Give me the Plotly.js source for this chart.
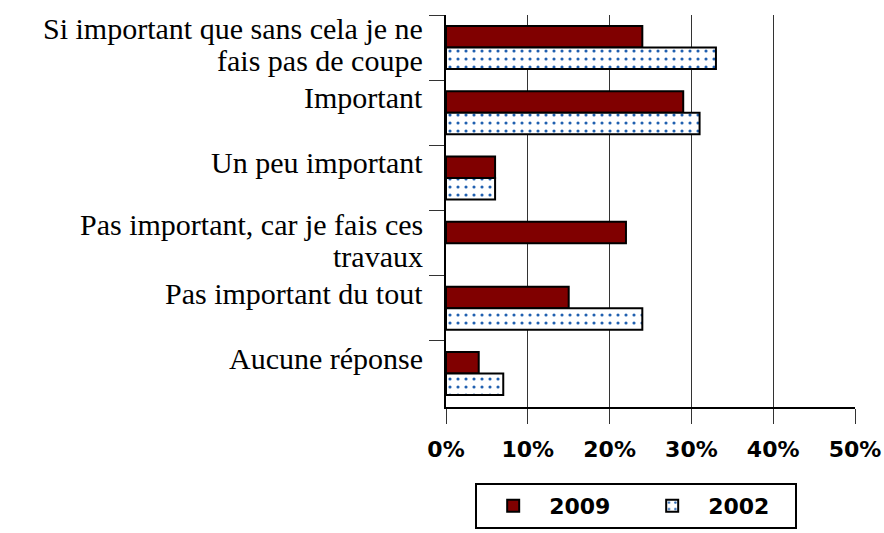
<!DOCTYPE html>
<html>
<head>
<meta charset="utf-8">
<script src="https://cdn.plot.ly/plotly-3.0.1.min.js"></script>
<style>html,body{margin:0;padding:0;background:#fff;}#chart{width:884px;height:533px;}</style>
</head>
<body>
<div id="chart"></div>
<script>
const categories = [
  "Si important que sans cela je ne<br>fais pas de coupe",
  "Important",
  "Un peu important",
  "Pas important, car je fais ces<br>travaux",
  "Pas important du tout",
  "Aucune réponse"
];
const values2009 = [24, 29, 6, 22, 15, 4];
const values2002 = [33, 31, 6, null, 24, 7];
const seriesNames = ["2009", "2002"];
const xTicks = [0, 10, 20, 30, 40, 50];

const traces = [
  {
    type: "bar", orientation: "h", name: seriesNames[0],
    y: categories, x: values2009,
    marker: {color: "#800000", line: {color: "#000", width: 2}},
    hoverinfo: "skip"
  },
  {
    type: "bar", orientation: "h", name: seriesNames[1],
    y: categories, x: values2002,
    marker: {
      color: "#ffffff",
      line: {color: "#000", width: 2},
      pattern: {shape: ".", fgcolor: "#2060b0", bgcolor: "#ffffff", size: 8, solidity: 0.12, fillmode: "replace"}
    },
    hoverinfo: "skip"
  }
];

// category labels as real text, one annotation per line (tight serif line spacing)
const labelFont = {family: "Liberation Serif", size: 30, color: "#000"};
const annotations = [];
categories.forEach(function (cat) {
  const lines = cat.split("<br>");
  const shifts = lines.length === 1 ? [15] : [19, -13];
  lines.forEach(function (ln, i) {
    annotations.push({
      xref: "paper", yref: "y", x: 0, y: cat,
      xanchor: "right", yanchor: "middle",
      xshift: -21, yshift: shifts[i],
      text: ln, showarrow: false, font: labelFont
    });
  });
});

const layout = {
  width: 884, height: 533,
  margin: {l: 446, r: 29, t: 15, b: 126, autoexpand: false},
  paper_bgcolor: "#fff", plot_bgcolor: "#fff",
  barmode: "group", bargap: 0.34, bargroupgap: 0,
  showlegend: true,
  legend: {
    orientation: "h", x: 0.465, xanchor: "center", y: -0.194, yanchor: "top",
    bordercolor: "#000", borderwidth: 2, bgcolor: "#fff",
    font: {family: "DejaVu Sans", size: 22, color: "#000", weight: "bold"},
    traceorder: "normal", itemwidth: 62, entrywidth: 82
  },
  annotations: annotations,
  xaxis: {
    range: [0, 50], tickvals: xTicks, ticktext: xTicks.map(v => v + "%"),
    showgrid: true, gridcolor: "#333", gridwidth: 1,
    showline: true, linecolor: "#000", linewidth: 2,
    ticks: "outside", ticklen: 15, tickcolor: "#333", tickwidth: 1,
    ticklabelstandoff: 7,
    zeroline: false, fixedrange: true,
    tickfont: {family: "DejaVu Sans", size: 22, color: "#000", weight: "bold"}
  },
  yaxis: {
    type: "category", autorange: "reversed",
    showgrid: false, showline: true, linecolor: "#000", linewidth: 2,
    ticks: "outside", tickson: "boundaries", ticklen: 15, tickcolor: "#333", tickwidth: 1,
    showticklabels: false,
    zeroline: false, fixedrange: true
  }
};

Plotly.newPlot("chart", traces, layout, {displayModeBar: false, staticPlot: true});
</script>
</body>
</html>
